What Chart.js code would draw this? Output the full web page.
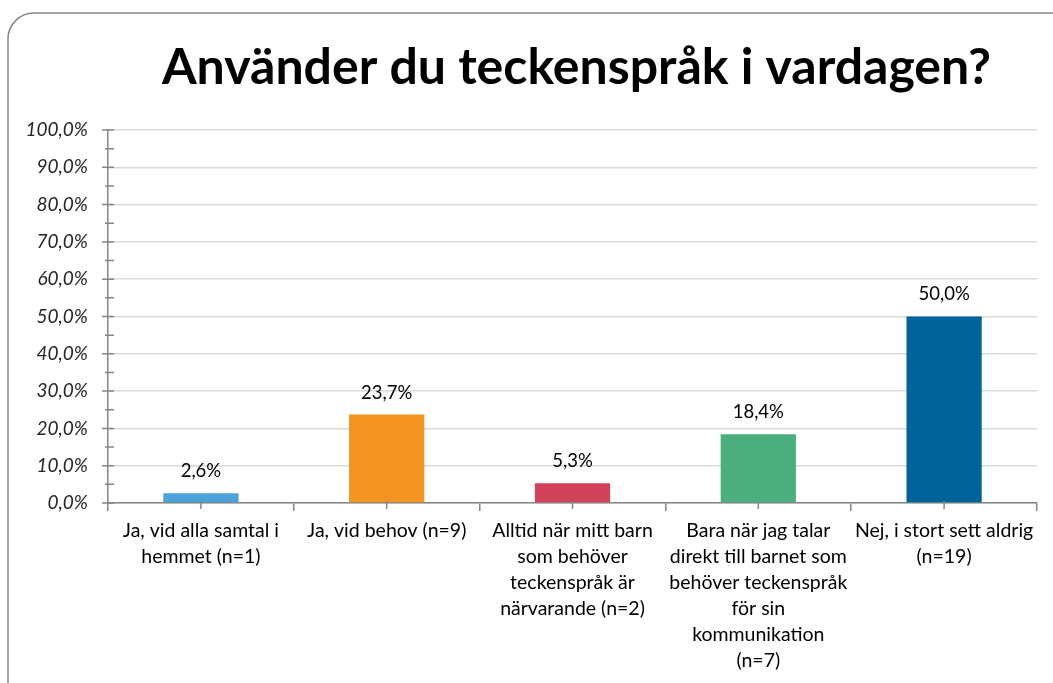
<!DOCTYPE html>
<html>
<head>
<meta charset="utf-8">
<script src="https://cdn.jsdelivr.net/npm/chart.js@4.4.0/dist/chart.umd.min.js"></script>
<style>
    body { margin: 0; background: #fff; }
    #wrap { width: 1053px; height: 683px; position: relative; }
</style>
</head>
<body>
<div id="wrap"><canvas id="signChart"></canvas></div>
<script>
// Chart data
const chartTitle = 'Använder du teckenspråk i vardagen?';
const categories = [
    ['Ja, vid alla samtal i', 'hemmet (n=1)'],
    'Ja, vid behov (n=9)',
    ['Alltid när mitt barn', 'som behöver', 'teckenspråk är', 'närvarande (n=2)'],
    ['Bara när jag talar', 'direkt till barnet som', 'behöver teckenspråk', 'för sin', 'kommunikation', '(n=7)'],
    ['Nej, i stort sett aldrig', '(n=19)']
];
const percentValues = [2.6, 23.7, 5.3, 18.4, 50.0];
const barColors = ['#4aa3db', '#f39322', '#d1435b', '#4aaf7c', '#00649a'];

const fontFamily = 'Lato, "Open Sans", sans-serif';
const axisGrey = '#868686';

function pct(v) {
    return v.toFixed(1).replace('.', ',') + '%';
}

// rounded frame around the whole chart
const framePlugin = {
    id: 'frame',
    beforeDraw(chart) {
        const ctx = chart.ctx;
        ctx.save();
        ctx.strokeStyle = axisGrey;
        ctx.lineWidth = 1.5;
        ctx.beginPath();
        ctx.roundRect(8, 13, chart.width + 20, chart.height + 20, 26);
        ctx.stroke();
        ctx.restore();
    }
};

// title centred over the plot area
const titlePlugin = {
    id: 'plotTitle',
    afterDraw(chart) {
        const ctx = chart.ctx;
        const area = chart.chartArea;
        ctx.save();
        ctx.font = 'bold 50px ' + fontFamily;
        ctx.fillStyle = '#000';
        ctx.textAlign = 'center';
        ctx.textBaseline = 'middle';
        ctx.fillText(chartTitle, (area.left + area.right) / 2 + 4, 68);
        ctx.restore();
    }
};

// minor ticks on y axis and centre ticks on x axis
const ticksPlugin = {
    id: 'extraTicks',
    afterDraw(chart) {
        const ctx = chart.ctx;
        const y = chart.scales.y;
        const x = chart.scales.x;
        const area = chart.chartArea;
        ctx.save();
        ctx.strokeStyle = axisGrey;
        ctx.lineWidth = 1.5;
        ctx.beginPath();
        for (let v = 0; v <= 100; v += 5) {
            const py = y.getPixelForValue(v);
            const major = v % 10 === 0;
            ctx.moveTo(area.left - (major ? 6 : 3), py);
            ctx.lineTo(area.left + 6, py);
        }
        for (let i = 0; i < categories.length; i++) {
            const px = x.getPixelForValue(i);
            ctx.moveTo(px, area.bottom - 2);
            ctx.lineTo(px, area.bottom + 6);
        }
        ctx.stroke();
        ctx.restore();
    }
};

// value labels above bars
const valueLabelPlugin = {
    id: 'valueLabels',
    afterDatasetsDraw(chart) {
        const ctx = chart.ctx;
        const meta = chart.getDatasetMeta(0);
        ctx.save();
        ctx.font = '18.5px ' + fontFamily;
        ctx.fillStyle = '#000';
        ctx.textAlign = 'center';
        ctx.textBaseline = 'middle';
        meta.data.forEach((bar, i) => {
            ctx.fillText(pct(percentValues[i]), bar.x, bar.y - 22);
        });
        ctx.restore();
    }
};

document.addEventListener('DOMContentLoaded', function() {
    const ctx = document.getElementById('signChart').getContext('2d');
    new Chart(ctx, {
        type: 'bar',
        data: {
            labels: categories,
            datasets: [{
                data: percentValues,
                backgroundColor: barColors,
                borderWidth: 0,
                categoryPercentage: 1.0,
                barPercentage: 0.405
            }]
        },
        options: {
            responsive: true,
            maintainAspectRatio: false,
            animation: false,
            layout: {
                padding: { top: 130, right: 16, left: 0, bottom: 0 }
            },
            plugins: {
                legend: { display: false },
                tooltip: { enabled: false },
                title: { display: false }
            },
            scales: {
                y: {
                    min: 0,
                    max: 100,
                    ticks: {
                        stepSize: 10,
                        padding: 20,
                        color: '#262626',
                        font: { family: fontFamily, size: 19, style: 'italic' },
                        callback: value => pct(value)
                    },
                    grid: {
                        color: '#d9d9d9',
                        lineWidth: 1.5,
                        drawTicks: false
                    },
                    border: { color: axisGrey, width: 1.5 },
                    afterFit: scale => { scale.width = 108; }
                },
                x: {
                    ticks: {
                        color: '#000',
                        padding: 7,
                        autoSkip: false,
                        maxRotation: 0,
                        font: { family: fontFamily, size: 19.5, lineHeight: 1.33 }
                    },
                    grid: {
                        offset: true,
                        drawOnChartArea: false,
                        color: axisGrey,
                        lineWidth: 1.5,
                        tickLength: 8
                    },
                    border: { color: axisGrey, width: 1.5 },
                    afterFit: scale => { scale.height = 180; }
                }
            }
        },
        plugins: [framePlugin, titlePlugin, ticksPlugin, valueLabelPlugin]
    });
});
</script>
</body>
</html>
